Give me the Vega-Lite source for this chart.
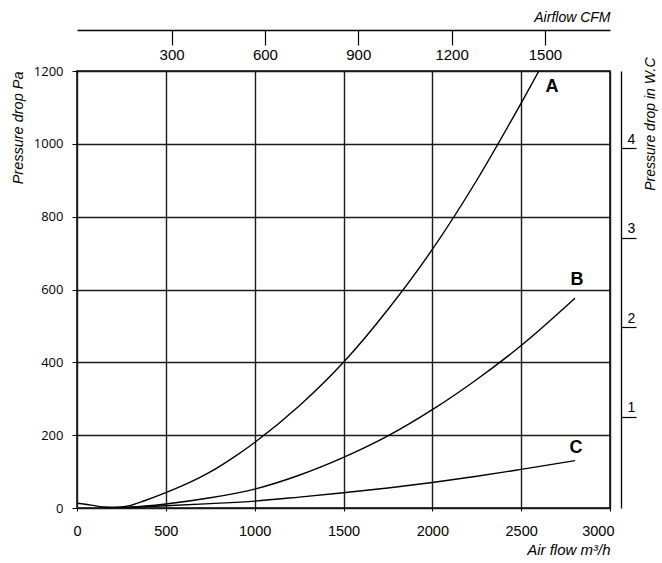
{
  "$schema": "https://vega.github.io/schema/vega-lite/v6.json",
  "width": 533,
  "height": 437,
  "autosize": {"type": "none"},
  "padding": {"left": 77, "top": 71, "right": 52, "bottom": 55},
  "background": "white",
  "config": {
    "view": {"stroke": "black", "strokeWidth": 1.5},
    "axis": {"gridColor": "#1a1a1a", "gridWidth": 1.4, "gridOpacity": 1, "domainColor": "black", "tickColor": "black", "labelColor": "black", "titleColor": "black", "titleFontWeight": "normal", "titleFontStyle": "italic", "format": "d"}
  },
  "datasets": {
    "curves": [
      {"curve": "A", "flow": 0, "pa": 13}, {"curve": "A", "flow": 80, "pa": 8}, {"curve": "A", "flow": 150, "pa": 3}, {"curve": "A", "flow": 220, "pa": 2}, {"curve": "A", "flow": 290, "pa": 6}, {"curve": "A", "flow": 380, "pa": 20}, {"curve": "A", "flow": 500, "pa": 42}, {"curve": "A", "flow": 625, "pa": 68}, {"curve": "A", "flow": 750, "pa": 99}, {"curve": "A", "flow": 875, "pa": 137}, {"curve": "A", "flow": 1000, "pa": 180}, {"curve": "A", "flow": 1250, "pa": 280}, {"curve": "A", "flow": 1500, "pa": 400}, {"curve": "A", "flow": 1750, "pa": 545}, {"curve": "A", "flow": 2000, "pa": 710}, {"curve": "A", "flow": 2250, "pa": 900}, {"curve": "A", "flow": 2500, "pa": 1112}, {"curve": "A", "flow": 2600, "pa": 1200},
      {"curve": "B", "flow": 150, "pa": 0}, {"curve": "B", "flow": 300, "pa": 2}, {"curve": "B", "flow": 500, "pa": 11}, {"curve": "B", "flow": 750, "pa": 28}, {"curve": "B", "flow": 1000, "pa": 52}, {"curve": "B", "flow": 1250, "pa": 90}, {"curve": "B", "flow": 1500, "pa": 139}, {"curve": "B", "flow": 1750, "pa": 198}, {"curve": "B", "flow": 2000, "pa": 270}, {"curve": "B", "flow": 2250, "pa": 353}, {"curve": "B", "flow": 2500, "pa": 446}, {"curve": "B", "flow": 2803, "pa": 576},
      {"curve": "C", "flow": 150, "pa": 0}, {"curve": "C", "flow": 300, "pa": 2}, {"curve": "C", "flow": 500, "pa": 6}, {"curve": "C", "flow": 750, "pa": 12}, {"curve": "C", "flow": 1000, "pa": 19}, {"curve": "C", "flow": 1250, "pa": 30}, {"curve": "C", "flow": 1500, "pa": 42}, {"curve": "C", "flow": 1750, "pa": 55}, {"curve": "C", "flow": 2000, "pa": 70}, {"curve": "C", "flow": 2250, "pa": 87}, {"curve": "C", "flow": 2500, "pa": 106}, {"curve": "C", "flow": 2803, "pa": 130}
    ],
    "labels": [
      {"label": "A", "flow": 2673, "pa": 1157},
      {"label": "B", "flow": 2814, "pa": 626},
      {"label": "C", "flow": 2808, "pa": 165}
    ],
    "cfm": [{"cfm": 300}, {"cfm": 600}, {"cfm": 900}, {"cfm": 1200}, {"cfm": 1500}],
    "wc": [{"wc": 1}, {"wc": 2}, {"wc": 3}, {"wc": 4}]
  },
  "layer": [
    {
      "encoding": {
        "x": {"field": "flow", "type": "quantitative", "scale": {"domain": [0, 3000], "nice": false, "zero": false},
          "axis": {"values": [0, 500, 1000, 1500, 2000, 2500, 3000], "grid": true, "domain": false, "tickSize": 3, "labelPadding": 13, "labelFont": "Liberation Sans Narrow, Liberation Sans", "labelFontSize": 14.5, "labelFlush": true, "labelFlushOffset": 4, "title": "Air flow m³/h", "titleAnchor": "end", "titleFont": "Liberation Sans Narrow, Liberation Sans", "titleFontSize": 15, "titlePadding": 5}},
        "y": {"field": "pa", "type": "quantitative", "scale": {"domain": [0, 1200], "nice": false},
          "axis": {"values": [0, 200, 400, 600, 800, 1000, 1200], "grid": true, "domain": false, "tickSize": 5, "labelPadding": 9, "labelFont": "Open Sans", "labelFontSize": 13, "title": "Pressure drop Pa", "titleAnchor": "end", "titleFont": "Liberation Sans", "titleFontSize": 14.5, "titlePadding": 8}}
      },
      "layer": [
        {"data": {"name": "curves"}, "mark": {"type": "line", "color": "black", "strokeWidth": 1.4, "interpolate": "monotone", "clip": true}, "encoding": {"detail": {"field": "curve"}}},
        {"data": {"name": "labels"}, "mark": {"type": "text", "font": "Liberation Sans", "fontWeight": "bold", "fontSize": 18, "color": "black", "align": "center", "baseline": "middle"}, "encoding": {"text": {"field": "label"}}}
      ]
    },
    {
      "data": {"name": "cfm"},
      "mark": {"type": "point", "opacity": 0},
      "encoding": {
        "x": {"field": "cfm", "type": "quantitative", "scale": {"domain": [-4, 1709], "nice": false, "zero": false},
          "axis": {"orient": "top", "offset": 41, "values": [300, 600, 900, 1200, 1500], "grid": false, "domain": true, "domainWidth": 1.3, "tickSize": -15, "tickWidth": 1.2, "labelPadding": -2, "labelBaseline": "top", "labelFont": "Liberation Sans", "labelFontSize": 15, "labelFlush": false, "title": "Airflow CFM", "titleAnchor": "end", "titleFont": "Liberation Sans", "titleFontSize": 14, "titlePadding": 5}}
      }
    },
    {
      "data": {"name": "wc"},
      "mark": {"type": "point", "opacity": 0},
      "encoding": {
        "y": {"field": "wc", "type": "quantitative", "scale": {"domain": [-0.02, 4.86], "nice": false, "zero": false},
          "axis": {"orient": "right", "offset": 11, "values": [1, 2, 3, 4], "grid": false, "domain": true, "domainWidth": 1.3, "tickSize": 15, "tickWidth": 1.2, "labelPadding": -9, "labelAlign": "left", "labelBaseline": "bottom", "labelOffset": -2, "labelFont": "Liberation Sans", "labelFontSize": 14, "title": "Pressure drop in W.C", "titleAngle": 270, "titleAnchor": "end", "titleAlign": "right", "titleY": -14, "titleFont": "Liberation Sans", "titleFontSize": 14, "titlePadding": 21}}
      }
    }
  ],
  "resolve": {"scale": {"x": "independent", "y": "independent"}}
}
